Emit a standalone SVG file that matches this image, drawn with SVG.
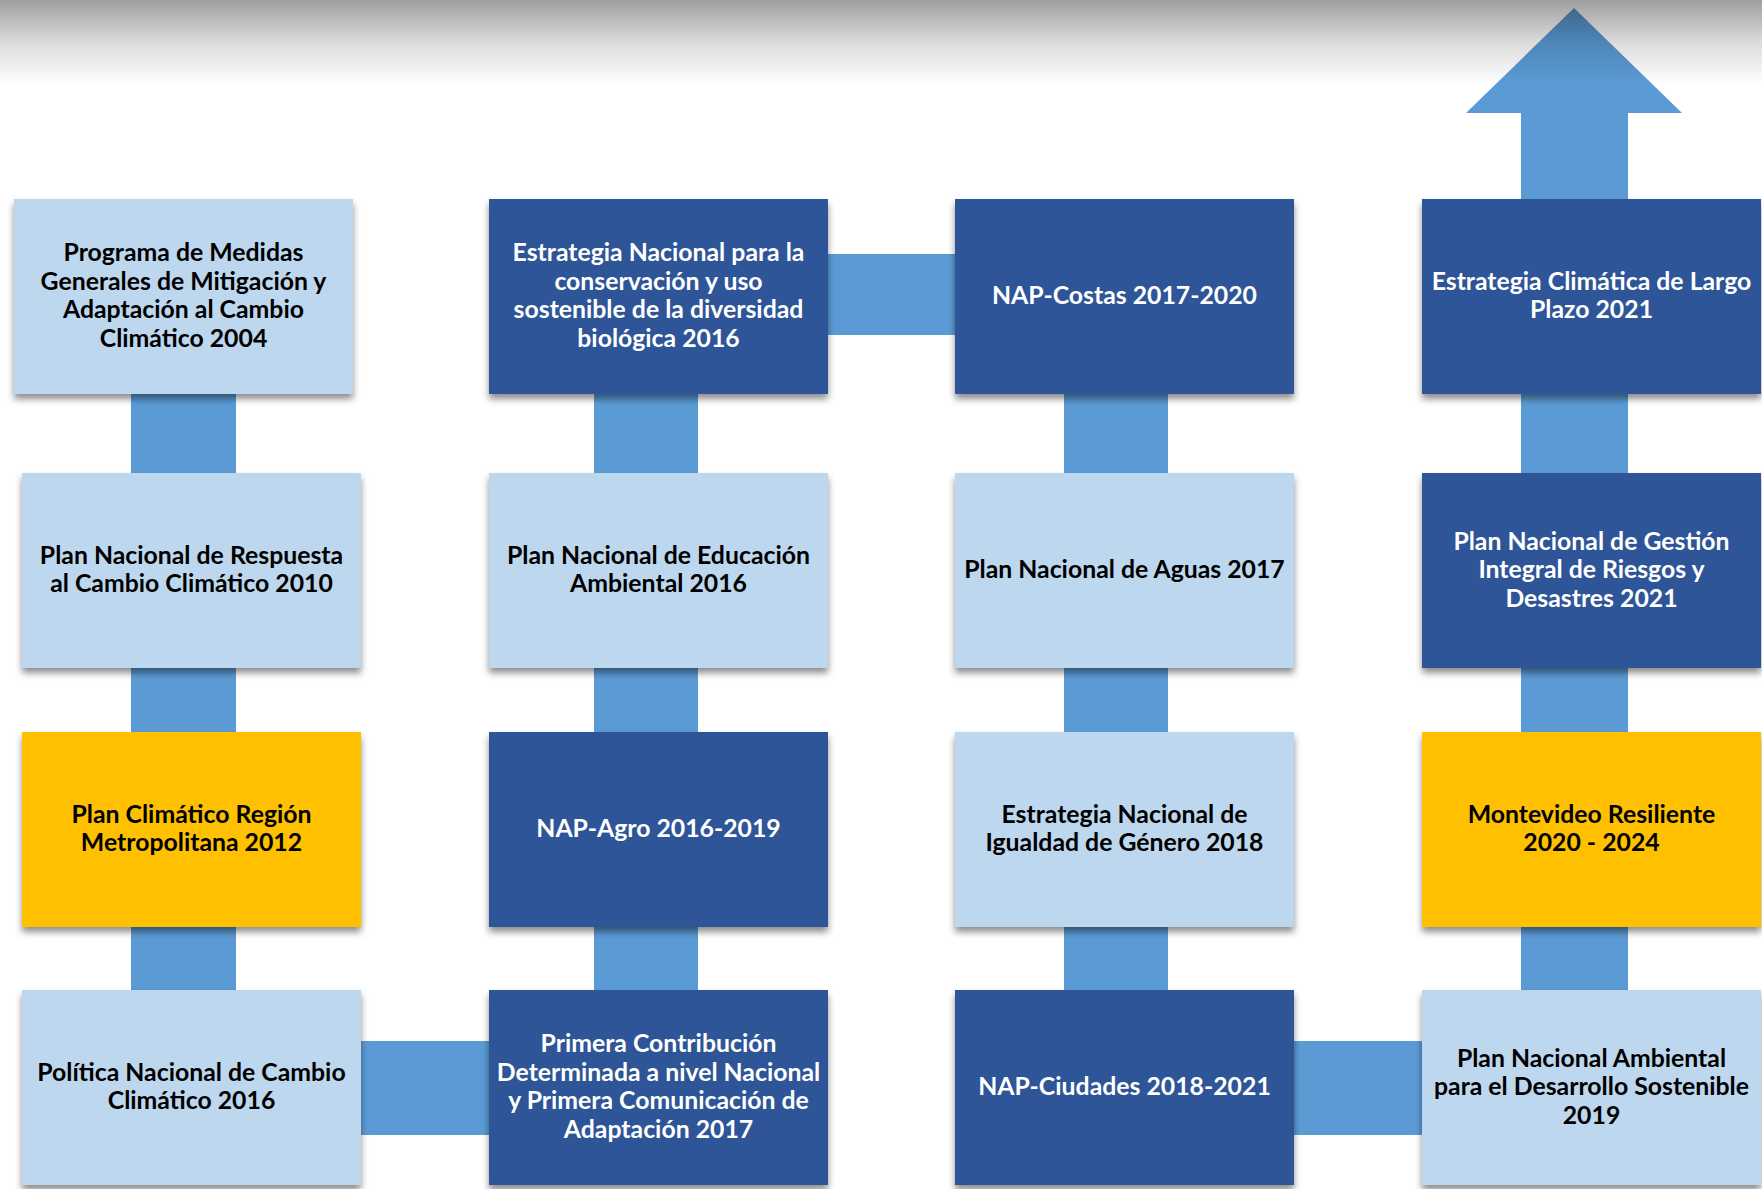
<svg xmlns="http://www.w3.org/2000/svg" width="1762" height="1189" viewBox="0 0 1762 1189">
<defs>
<style>
.box{filter:url(#sh)}
.lt{fill:#BDD7EE}
.dk{fill:#2F5597}
.gd{fill:#FFC000}
.cn{fill:#5B9BD5}
text{font-family:Lato,"Open Sans","Liberation Sans",sans-serif;font-weight:700;font-size:24.8px;text-anchor:middle}
.tb{fill:#000000}
.tw{fill:#FFFFFF}
</style>
<filter id="sh" x="-10%" y="-10%" width="120%" height="130%">
<feDropShadow dx="0" dy="5" stdDeviation="3.5" flood-color="#000" flood-opacity="0.45"/>
</filter>
<linearGradient id="topfade" x1="0" y1="0" x2="0" y2="1">
<stop offset="0" stop-color="#000" stop-opacity="0.38"/>
<stop offset="0.5" stop-color="#000" stop-opacity="0.14"/>
<stop offset="1" stop-color="#000" stop-opacity="0"/>
</linearGradient>
</defs>
<rect x="0" y="0" width="1762" height="1189" fill="#FFFFFF"/>
<g id="connectors">
<rect class="cn" x="131" y="390" width="105" height="605"/>
<rect class="cn" x="594" y="390" width="104" height="605"/>
<rect class="cn" x="1064" y="390" width="104" height="605"/>
<polygon class="cn" points="1574,8 1682,113 1628,113 1628,995 1521,995 1521,113 1466,113"/>
<rect class="cn" x="825" y="254" width="133" height="81"/>
<rect class="cn" x="358" y="1041" width="134" height="94"/>
<rect class="cn" x="1291" y="1041" width="134" height="94"/>
</g>
<rect x="0" y="0" width="1762" height="85" fill="url(#topfade)"/>
<g id="n1"><rect class="box lt" x="14" y="199" width="339" height="195"/>
<text class="tb"><tspan x="183.5" y="261.25">Programa de Medidas</tspan><tspan x="183.5" y="289.75">Generales de Mitigación y</tspan><tspan x="183.5" y="318.25">Adaptación al Cambio</tspan><tspan x="183.5" y="346.75">Climático 2004</tspan></text></g>
<g id="n2"><rect class="box lt" x="22" y="473" width="339" height="195"/>
<text class="tb"><tspan x="191.5" y="563.75">Plan Nacional de Respuesta</tspan><tspan x="191.5" y="592.25">al Cambio Climático 2010</tspan></text></g>
<g id="n3"><rect class="box gd" x="22" y="732" width="339" height="195"/>
<text class="tb"><tspan x="191.5" y="822.75">Plan Climático Región</tspan><tspan x="191.5" y="851.25">Metropolitana 2012</tspan></text></g>
<g id="n4"><rect class="box lt" x="22" y="990" width="339" height="195"/>
<text class="tb"><tspan x="191.5" y="1080.75">Política Nacional de Cambio</tspan><tspan x="191.5" y="1109.25">Climático 2016</tspan></text></g>
<g id="n5"><rect class="box dk" x="489" y="199" width="339" height="195"/>
<text class="tw"><tspan x="658.5" y="261.25">Estrategia Nacional para la</tspan><tspan x="658.5" y="289.75">conservación y uso</tspan><tspan x="658.5" y="318.25">sostenible de la diversidad</tspan><tspan x="658.5" y="346.75">biológica 2016</tspan></text></g>
<g id="n6"><rect class="box lt" x="489" y="473" width="339" height="195"/>
<text class="tb"><tspan x="658.5" y="563.75">Plan Nacional de Educación</tspan><tspan x="658.5" y="592.25">Ambiental 2016</tspan></text></g>
<g id="n7"><rect class="box dk" x="489" y="732" width="339" height="195"/>
<text class="tw"><tspan x="658.5" y="837">NAP-Agro 2016-2019</tspan></text></g>
<g id="n8"><rect class="box dk" x="489" y="990" width="339" height="195"/>
<text class="tw"><tspan x="658.5" y="1052.25">Primera Contribución</tspan><tspan x="658.5" y="1080.75">Determinada a nivel Nacional</tspan><tspan x="658.5" y="1109.25">y Primera Comunicación de</tspan><tspan x="658.5" y="1137.75">Adaptación 2017</tspan></text></g>
<g id="n9"><rect class="box dk" x="955" y="199" width="339" height="195"/>
<text class="tw"><tspan x="1124.5" y="304">NAP-Costas 2017-2020</tspan></text></g>
<g id="n10"><rect class="box lt" x="955" y="473" width="339" height="195"/>
<text class="tb"><tspan x="1124.5" y="578">Plan Nacional de Aguas 2017</tspan></text></g>
<g id="n11"><rect class="box lt" x="955" y="732" width="339" height="195"/>
<text class="tb"><tspan x="1124.5" y="822.75">Estrategia Nacional de</tspan><tspan x="1124.5" y="851.25">Igualdad de Género 2018</tspan></text></g>
<g id="n12"><rect class="box dk" x="955" y="990" width="339" height="195"/>
<text class="tw"><tspan x="1124.5" y="1095">NAP-Ciudades 2018-2021</tspan></text></g>
<g id="n13"><rect class="box dk" x="1422" y="199" width="339" height="195"/>
<text class="tw"><tspan x="1591.5" y="289.75">Estrategia Climática de Largo</tspan><tspan x="1591.5" y="318.25">Plazo 2021</tspan></text></g>
<g id="n14"><rect class="box dk" x="1422" y="473" width="339" height="195"/>
<text class="tw"><tspan x="1591.5" y="549.5">Plan Nacional de Gestión</tspan><tspan x="1591.5" y="578">Integral de Riesgos y</tspan><tspan x="1591.5" y="606.5">Desastres 2021</tspan></text></g>
<g id="n15"><rect class="box gd" x="1422" y="732" width="339" height="195"/>
<text class="tb"><tspan x="1591.5" y="822.75">Montevideo Resiliente</tspan><tspan x="1591.5" y="851.25">2020 - 2024</tspan></text></g>
<g id="n16"><rect class="box lt" x="1422" y="990" width="339" height="195"/>
<text class="tb"><tspan x="1591.5" y="1066.5">Plan Nacional Ambiental</tspan><tspan x="1591.5" y="1095">para el Desarrollo Sostenible</tspan><tspan x="1591.5" y="1123.5">2019</tspan></text></g>
</svg>
